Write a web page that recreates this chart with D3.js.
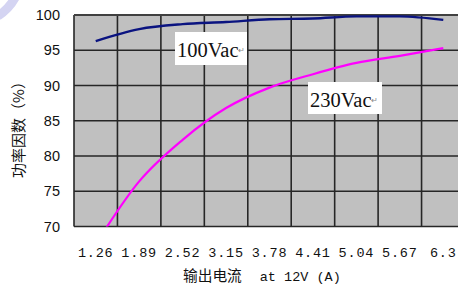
<!DOCTYPE html>
<html><head><meta charset="utf-8">
<script src="https://cdn.jsdelivr.net/npm/d3@7"></script>
<style>html,body{margin:0;padding:0;background:#fff;}svg{display:block;}</style>
</head><body>
<svg id="c" width="458" height="285"></svg>
<script>
const categories = ["1.26","1.89","2.52","3.15","3.78","4.41","5.04","5.67","6.3"];
const vac100 = [96.3, 98.0, 98.7, 99.0, 99.4, 99.5, 99.8, 99.8, 99.3];
const vac230 = [67.5, 76.4, 82.3, 86.8, 89.7, 91.6, 93.2, 94.2, 95.3];
const yTicks = [70, 75, 80, 85, 90, 95, 100];
const seriesLabels = ["100Vac", "230Vac"];

const svg = d3.select("#c");
const L = 74, R = 465, T = 15, B = 226.5;
const x = d3.scaleBand().domain(categories).range([L, R]).padding(0);
const y = d3.scaleLinear().domain([70, 100]).range([B, T]);

// decorative watermark arc
svg.append("path").attr("d","M16,-4 Q10,8 -2,16").attr("fill","none")
  .attr("stroke","#d4d4f2").attr("stroke-width",9);

svg.append("defs").append("clipPath").attr("id","clip")
  .append("rect").attr("x",L).attr("y",T).attr("width",R-L).attr("height",B-T);

svg.append("rect").attr("x",L).attr("y",T).attr("width",R-L).attr("height",B-T).attr("fill","#c0c0c0");

// grid
const g = svg.append("g");
g.selectAll("line.h").data(yTicks).join("line").attr("class","h")
  .attr("x1",L).attr("x2",R).attr("y1",d=>y(d)).attr("y2",d=>y(d))
  .attr("stroke","#262626").attr("stroke-width",1.6);
g.selectAll("line.v").data(categories.slice(1).concat(["end"])).join("line").attr("class","v")
  .attr("x1",(d,i)=> i < categories.length-1 ? x(d) : R).attr("x2",(d,i)=> i < categories.length-1 ? x(d) : R)
  .attr("y1",T).attr("y2",B).attr("stroke","#262626").attr("stroke-width",1.6);
svg.append("line").attr("x1",L).attr("x2",L).attr("y1",T).attr("y2",B).attr("stroke","#262626").attr("stroke-width",1.6);
svg.append("line").attr("x1",L).attr("x2",R).attr("y1",T).attr("y2",T).attr("stroke","#404040").attr("stroke-width",2);

const line = d3.line().x((d,i)=>x(categories[i])+x.bandwidth()/2).y(d=>y(d)).curve(d3.curveMonotoneX);
const lines = svg.append("g").attr("clip-path","url(#clip)");
lines.append("path").attr("d",line(vac100)).attr("fill","none").attr("stroke","#0a1380").attr("stroke-width",2.4);
lines.append("path").attr("d",line(vac230)).attr("fill","none").attr("stroke","#ff00ff").attr("stroke-width",2.2);

// y tick labels
svg.selectAll("text.yt").data(yTicks).join("text").attr("class","yt")
  .attr("x",60).attr("y",d=>y(d)+5).attr("text-anchor","end")
  .attr("font-family","Liberation Sans, Arial, sans-serif").attr("font-size",14.5).attr("fill","#111")
  .text(d=>d);

// x tick labels
svg.selectAll("text.xt").data(categories).join("text").attr("class","xt")
  .attr("x",d=>x(d)+x.bandwidth()/2).attr("y",257).attr("text-anchor","middle")
  .attr("font-family","Liberation Mono, DejaVu Sans Mono, monospace").attr("font-size",13.5)
  .attr("letter-spacing",0.8).attr("fill","#111")
  .text(d=>d);

// axis titles
const xt = svg.append("text").attr("x",183).attr("y",281).attr("fill","#111");
xt.append("tspan").attr("font-family","Noto Sans CJK SC, sans-serif").attr("font-size",14.7).text("输出电流");
xt.append("tspan").attr("font-family","Liberation Mono, monospace").attr("font-size",13.5).attr("dx",18).text("at 12V (A)");

svg.append("text").attr("transform","translate(24,126) rotate(-90)").attr("text-anchor","middle")
  .attr("font-family","Noto Sans CJK SC, sans-serif").attr("font-size",15).attr("fill","#111")
  .text("功率因数（%）");

// series labels
const labels = [
  {t: seriesLabels[0], bx:175, by:32, bw:72, bh:33, tx:177, ty:57},
  {t: seriesLabels[1], bx:308, by:82, bw:74, bh:32, tx:310, ty:107}
];
labels.forEach(l=>{
  svg.append("rect").attr("x",l.bx).attr("y",l.by).attr("width",l.bw).attr("height",l.bh).attr("fill","#fff");
  const t = svg.append("text").attr("x",l.tx).attr("y",l.ty)
    .attr("font-family","Liberation Serif, Times New Roman, serif").attr("font-size",20.5).attr("fill","#111");
  t.append("tspan").text(l.t);
  t.append("tspan").attr("font-size",8).attr("fill","#888").attr("dy",-4).text("↵");
});
</script>
</body></html>
